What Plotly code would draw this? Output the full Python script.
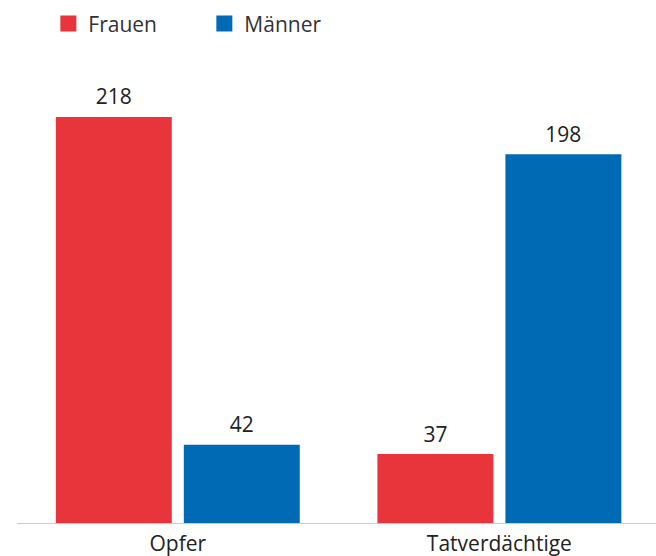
import plotly.graph_objects as go

categories = ["Opfer", "Tatverdächtige"]
frauen = [218, 37]
maenner = [42, 198]
series_names = ["Frauen", "Männer"]
series_colors = ["#E8353B", "#006BB4"]

font_family = "'Open Sans', 'Noto Sans', sans-serif"
font_size = 21

fig = go.Figure()
for name, vals, color in zip(series_names, [frauen, maenner], series_colors):
    fig.add_trace(go.Bar(
        name=name,
        x=categories,
        y=vals,
        offsetgroup=name,
        marker=dict(color=color, line=dict(width=0)),
        showlegend=False,
        legendgroup=name,
        hoverinfo="x+y",
    ))
    # value labels, grouped the same way as the bars so they sit centred above them
    fig.add_trace(go.Scatter(
        name=name,
        x=categories,
        y=vals,
        offsetgroup=name,
        mode="markers+text",
        marker=dict(size=10, opacity=0, color=color),
        text=[str(v) for v in vals],
        textposition="top center",
        textfont=dict(size=font_size, color="#222222", family=font_family),
        cliponaxis=False,
        showlegend=False,
        hoverinfo="skip",
    ))
    # legend entry with a larger square swatch
    fig.add_trace(go.Scatter(
        name=name,
        x=[None],
        y=[None],
        mode="markers",
        marker=dict(symbol="square", size=16, color=color),
        legendgroup=name,
        showlegend=True,
    ))

fig.update_layout(
    width=656,
    height=556,
    margin=dict(l=17, r=0, t=60, b=33, autoexpand=False),
    paper_bgcolor="white",
    plot_bgcolor="white",
    barmode="group",
    scattermode="group",
    bargap=0.204,
    scattergap=0.204,
    bargroupgap=0.094,
    font=dict(family=font_family, size=font_size, color="#333333"),
    legend=dict(
        orientation="h",
        xref="container",
        yref="container",
        x=0.0737,
        y=0.994,
        xanchor="left",
        yanchor="top",
        font=dict(size=font_size, color="#333333", family=font_family),
        entrywidth=111,
        entrywidthmode="pixels",
        traceorder="normal",
        itemsizing="trace",
    ),
    xaxis=dict(
        range=[-0.5, 1.487],
        automargin=False,
        showline=True,
        linecolor="#cccccc",
        linewidth=1,
        ticks="",
        ticklabelstandoff=2,
        showgrid=False,
        tickfont=dict(size=font_size, color="#222222", family=font_family),
    ),
    yaxis=dict(
        range=[0, 248.6],
        visible=False,
        showgrid=False,
        zeroline=False,
    ),
)

fig.write_html("out.html")
